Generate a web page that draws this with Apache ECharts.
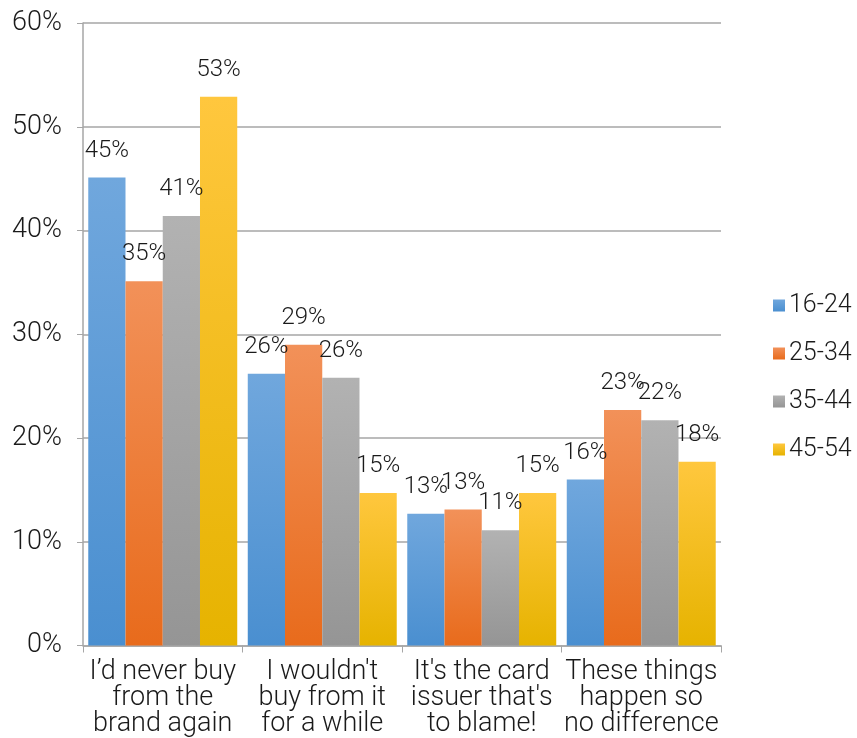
<!DOCTYPE html>
<html>
<head>
<meta charset="utf-8">
<script src="https://cdn.jsdelivr.net/npm/echarts@6/dist/echarts.min.js"></script>
<style>
  html, body { margin: 0; padding: 0; background: #fff; }
  #chart { width: 857px; height: 738px; }
</style>
</head>
<body>
<div id="chart"></div>
<script>
// categories and values (percent)
var categories = [
  "I\u2019d never buy\nfrom the\nbrand again",
  "I wouldn't\nbuy from it\nfor a while",
  "It's the card\nissuer that's\nto blame!",
  "These things\nhappen so\nno difference"
];
var ageGroups = ["16-24", "25-34", "35-44", "45-54"];
var age16_24 = [45.1, 26.2, 12.7, 16.0];
var age25_34 = [35.1, 29.0, 13.1, 22.7];
var age35_44 = [41.4, 25.8, 11.1, 21.7];
var age45_54 = [52.9, 14.7, 14.7, 17.7];

var font = "'Helvetica Neue', Roboto, 'Liberation Sans', sans-serif";

// gradient colours top -> bottom
var gradients = [
  ["#70a7dd", "#4a8fd0"],
  ["#f29159", "#e86b1c"],
  ["#b2b2b2", "#959595"],
  ["#ffc73e", "#e6b300"]
];

function grad(c) {
  return new echarts.graphic.LinearGradient(0, 0, 0, 1, [
    { offset: 0, color: c[0] },
    { offset: 1, color: c[1] }
  ]);
}

var seriesData = [age16_24, age25_34, age35_44, age45_54];
var series = seriesData.map(function (d, i) {
  return {
    name: ageGroups[i],
    type: "bar",
    data: d,
    barGap: "0%",
    barCategoryGap: "6.6%",
    itemStyle: { color: grad(gradients[i]) },
    label: {
      show: true,
      position: "top",
      distance: 15,
      color: "#1a1a1a",
      fontSize: 24,
      fontFamily: font,
      fontWeight: 300,
      formatter: function (p) { return Math.round(p.value) + "%"; }
    }
  };
});

var myChart = echarts.init(document.getElementById("chart"));
var option = {
  animation: false,
  color: gradients.map(function (c) { return grad(c); }),
  grid: { left: 83, right: 136, top: 23, bottom: 91, containLabel: false },
  legend: {
    orient: "vertical",
    left: 768,
    top: 288,
    itemWidth: 12,
    itemHeight: 12,
    itemGap: 23,
    icon: "rect",
    textStyle: { fontSize: 25, color: "#1a1a1a", fontFamily: font, fontWeight: 300, padding: [0, 0, 0, -1] },
    data: ageGroups
  },
  xAxis: {
    type: "category",
    data: categories,
    axisLine: { lineStyle: { color: "#a6a6a6", width: 1.5 } },
    axisTick: { show: true, length: 7, lineStyle: { color: "#a6a6a6" } },
    axisLabel: {
      interval: 0,
      color: "#1a1a1a",
      fontSize: 27,
      lineHeight: 26,
      fontFamily: font,
      fontWeight: 300,
      margin: 14
    }
  },
  yAxis: {
    type: "value",
    min: 0,
    max: 60,
    interval: 10,
    axisLine: { show: true, lineStyle: { color: "#a6a6a6", width: 1.5 } },
    axisTick: { show: true, length: 6, lineStyle: { color: "#a6a6a6" } },
    splitLine: { lineStyle: { color: "#a6a6a6", width: 1.5 } },
    axisLabel: {
      color: "#1a1a1a",
      fontSize: 27,
      fontFamily: font,
      fontWeight: 300,
      margin: 21,
      formatter: "{value}%"
    }
  },
  series: series
};
option && myChart.setOption(option);
</script>
</body>
</html>
